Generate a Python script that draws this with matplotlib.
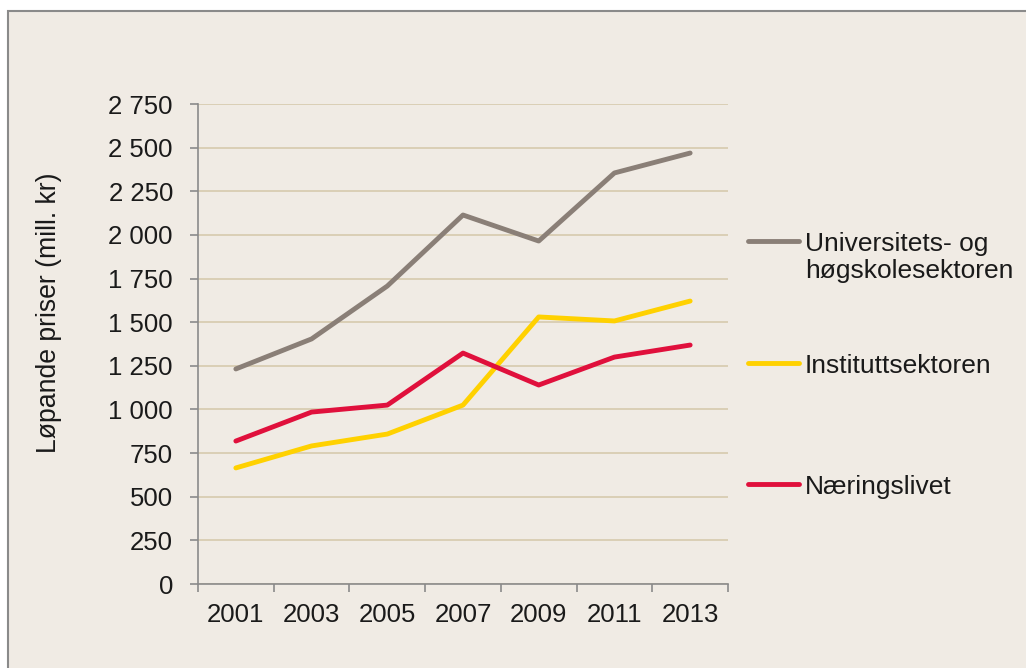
import matplotlib
matplotlib.use('Agg')
import matplotlib.pyplot as plt
from matplotlib.lines import Line2D
from matplotlib.patches import Rectangle
from matplotlib.ticker import FuncFormatter, FixedLocator
import numpy as np

years = ['2001', '2003', '2005', '2007', '2009', '2011', '2013']
universitet = [1232, 1404, 1707, 2114, 1965, 2355, 2469]
institutt = [665, 791, 859, 1025, 1530, 1507, 1621]
naering = [819, 985, 1025, 1323, 1140, 1300, 1369]

series_names = ['Universitets- og\nhøgskolesektoren', 'Instituttsektoren', 'Næringslivet']
series_colors = ['#8a7f77', '#ffd100', '#e0103c']

plt.rcParams['font.family'] = ['Liberation Sans', 'DejaVu Sans']

bg = '#f0ebe4'
W, H = 1026, 668
fig = plt.figure(figsize=(W / 100, H / 100), dpi=100, facecolor='white')
fig.add_artist(Rectangle((8 / W, -0.1), 1.2, (H - 11) / H + 0.1, transform=fig.transFigure,
                         facecolor=bg, edgecolor='#8a8a8a', linewidth=1.5, zorder=-10))

ax = fig.add_axes([198 / W, (H - 584) / H, 530 / W, 480 / H])
ax.patch.set_alpha(0)

x = np.arange(len(years))
for vals, col in zip([universitet, institutt, naering], series_colors):
    ax.plot(x, vals, color=col, linewidth=3.5, solid_capstyle='round', zorder=3)

ax.set_xlim(-0.5, len(years) - 0.5)
ax.set_ylim(0, 2750)
ax.set_yticks(np.arange(0, 2751, 250))
ax.yaxis.set_major_formatter(FuncFormatter(lambda v, p: f'{int(v):,}'.replace(',', ' ')))
ax.grid(axis='y', color='#d8ccb2', linewidth=1.3, zorder=0)

ax.xaxis.set_major_locator(FixedLocator(np.arange(-0.5, len(years), 1.0)))
ax.xaxis.set_major_formatter(FuncFormatter(lambda v, p: ''))
ax.xaxis.set_minor_locator(FixedLocator(x))
ax.set_xticklabels(years, minor=True)
ax.tick_params(axis='x', which='minor', length=0, pad=14, labelsize=18.5, labelcolor='#1a1a1a')
ax.tick_params(axis='x', which='major', length=6, width=1.2, color='#8a8a8a', direction='out')
ax.tick_params(axis='y', length=6, width=1.2, color='#8a8a8a', direction='out', pad=12,
               labelsize=18.5, labelcolor='#1a1a1a')

for side in ['top', 'right']:
    ax.spines[side].set_visible(False)
for side in ['left', 'bottom']:
    ax.spines[side].set_color('#8a8a8a')
    ax.spines[side].set_linewidth(1.2)

fig.text(49 / W, 1 - 313 / H, 'Løpande priser (mill. kr)', rotation=90, fontsize=19.2,
         color='#1a1a1a', ha='center', va='center')

# legend drawn by hand so the keys line up with the first text line
leg_y = [241, 363, 484]
for name, col, yy in zip(series_names, series_colors, leg_y):
    fig.add_artist(Line2D([748 / W, 799 / W], [1 - yy / H, 1 - yy / H], transform=fig.transFigure,
                          color=col, linewidth=3.5, solid_capstyle='round'))
    lines = name.split('\n')
    for i, txt in enumerate(lines):
        fig.text(805 / W, 1 - (yy + 10 + 27 * i) / H, txt, fontsize=19, color='#1a1a1a',
                 ha='left', va='baseline')

fig.savefig('out.png', dpi=100, facecolor='white')
